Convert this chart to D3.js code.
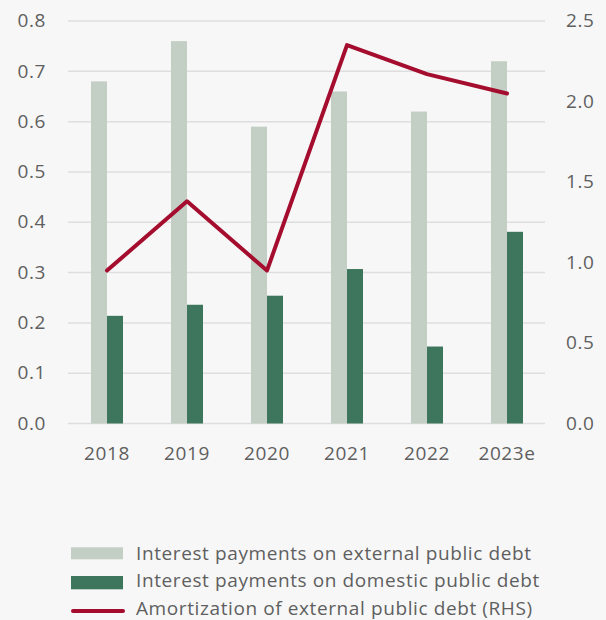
<!DOCTYPE html>
<html>
<head>
<meta charset="utf-8">
<script src="https://cdn.jsdelivr.net/npm/d3@7"></script>
<style>
  html, body { margin: 0; padding: 0; background: #f7f7f7; }
  svg { display: block; }
  text { font-family: "Open Sans", "Noto Sans", sans-serif; fill: #5f5f5f; letter-spacing: 0.6px; }
</style>
</head>
<body>
<svg id="chart" width="606" height="620"></svg>
<script>
// Public debt service, % of GDP
const years = ["2018", "2019", "2020", "2021", "2022", "2023e"];
const externalInterest = [0.68, 0.76, 0.59, 0.66, 0.62, 0.72];
const domesticInterest = [0.214, 0.236, 0.254, 0.307, 0.153, 0.381];
const externalAmortization = [0.95, 1.38, 0.95, 2.35, 2.17, 2.05];
const leftTicks = [0, 0.1, 0.2, 0.3, 0.4, 0.5, 0.6, 0.7, 0.8];
const rightTicks = [0, 0.5, 1.0, 1.5, 2.0, 2.5];
const seriesNames = [
  "Interest payments on external public debt",
  "Interest payments on domestic public debt",
  "Amortization of external public debt (RHS)"
];

const colors = { ext: "#c3cec4", dom: "#3d765d", line: "#a50d2f", grid: "#dedede" };
const fontSize = "19px";

const svg = d3.select("#chart");
const plot = { left: 67, right: 547, top: 21, bottom: 423.5 };

const x = d3.scaleBand().domain(years).range([plot.left, plot.right]);
const yL = d3.scaleLinear().domain([0, 0.8]).range([plot.bottom, plot.top]);
const yR = d3.scaleLinear().domain([0, 2.5]).range([plot.bottom, plot.top]);
const barW = 16;

// Gridlines
svg.append("g").selectAll("line").data(leftTicks).join("line")
  .attr("x1", 68).attr("x2", 545)
  .attr("y1", d => yL(d)).attr("y2", d => yL(d))
  .attr("stroke", colors.grid).attr("stroke-width", 1.5);

// Left axis
const axL = svg.append("g").attr("transform", "translate(46,0)")
  .call(d3.axisLeft(yL).tickValues(leftTicks).tickFormat(d3.format(".1f")).tickSize(0).tickPadding(0));
axL.select(".domain").remove();
axL.selectAll("text").style("font-size", fontSize).attr("dy", "0.3em");

// Right axis
const axR = svg.append("g").attr("transform", "translate(566,0)")
  .call(d3.axisRight(yR).tickValues(rightTicks).tickFormat(d3.format(".1f")).tickSize(0).tickPadding(0));
axR.select(".domain").remove();
axR.selectAll("text").style("font-size", fontSize).attr("dy", "0.3em");

// Bottom axis
const axB = svg.append("g").attr("transform", "translate(0,459.5)")
  .call(d3.axisBottom(x).tickSize(0).tickPadding(0));
axB.select(".domain").remove();
axB.selectAll("text").style("font-size", fontSize).attr("y", 0).attr("dy", 0);

const cx = d => x(d) + x.bandwidth() / 2;

// Bars
svg.append("g").selectAll("rect").data(years).join("rect")
  .attr("x", d => cx(d) - barW).attr("width", barW)
  .attr("y", (d, i) => yL(externalInterest[i]))
  .attr("height", (d, i) => yL(0) - yL(externalInterest[i]))
  .attr("fill", colors.ext);

svg.append("g").selectAll("rect").data(years).join("rect")
  .attr("x", d => cx(d)).attr("width", barW)
  .attr("y", (d, i) => yL(domesticInterest[i]))
  .attr("height", (d, i) => yL(0) - yL(domesticInterest[i]))
  .attr("fill", colors.dom);

// Amortization line (right-hand scale)
const line = d3.line().x((d, i) => cx(years[i])).y(d => yR(d));
svg.append("path").datum(externalAmortization)
  .attr("d", line).attr("fill", "none")
  .attr("stroke", colors.line).attr("stroke-width", 4)
  .attr("stroke-linejoin", "round").attr("stroke-linecap", "round");

// Legend
const legend = svg.append("g").attr("transform", "translate(71,0)");
const baselines = [559.5, 587, 614.5];
legend.append("rect").attr("x", 0).attr("y", 547.3).attr("width", 52).attr("height", 12).attr("fill", colors.ext);
legend.append("rect").attr("x", 0).attr("y", 576).attr("width", 52).attr("height", 13.3).attr("fill", colors.dom);
legend.append("line").attr("x1", 2).attr("x2", 52).attr("y1", 611).attr("y2", 611)
  .attr("stroke", colors.line).attr("stroke-width", 4).attr("stroke-linecap", "round");
legend.selectAll("text").data(seriesNames).join("text")
  .attr("x", 65).attr("y", (d, i) => baselines[i])
  .style("font-size", fontSize).text(d => d);
</script>
</body>
</html>
